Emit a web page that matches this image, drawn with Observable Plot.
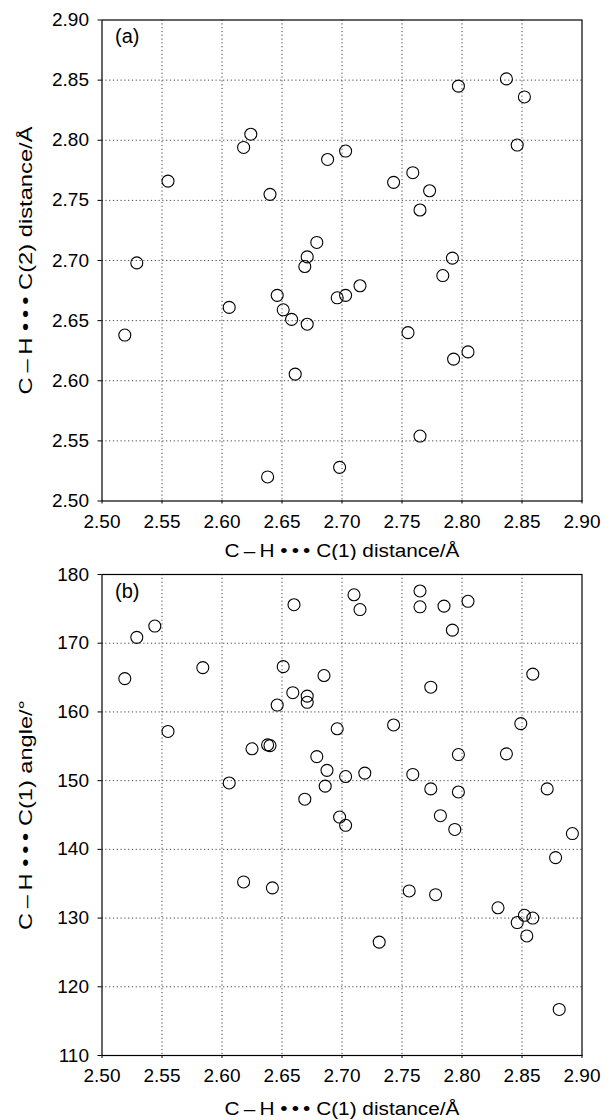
<!DOCTYPE html>
<html>
<head>
<meta charset="utf-8">
<script src="https://cdn.jsdelivr.net/npm/d3@7"></script>
<script src="https://cdn.jsdelivr.net/npm/@observablehq/plot@0.6"></script>
<style>
  html, body { margin: 0; padding: 0; background: #fff; }
  #chart { width: 610px; }
  #chart svg { display: block; }
</style>
</head>
<body>
<div id="chart"></div>
<script>
// Panel (a): C–H···C(1) distance vs C–H···C(2) distance (Å)
const aDist1 = [2.519, 2.529, 2.555, 2.606, 2.618, 2.624, 2.638, 2.640, 2.646, 2.651, 2.658, 2.661,
                2.669, 2.671, 2.671, 2.679, 2.688, 2.696, 2.698, 2.703, 2.703, 2.715, 2.743, 2.755,
                2.759, 2.765, 2.765, 2.773, 2.784, 2.792, 2.793, 2.797, 2.805, 2.837, 2.846, 2.852];
const aDist2 = [2.638, 2.698, 2.766, 2.661, 2.794, 2.805, 2.520, 2.755, 2.671, 2.659, 2.651, 2.6055,
                2.695, 2.703, 2.647, 2.715, 2.784, 2.669, 2.528, 2.671, 2.791, 2.679, 2.765, 2.640,
                2.773, 2.742, 2.554, 2.758, 2.6875, 2.702, 2.618, 2.845, 2.624, 2.851, 2.796, 2.836];

// Panel (b): C–H···C(1) distance (Å) vs C–H···C(1) angle (°)
const bDist = [2.519, 2.529, 2.544, 2.555, 2.584, 2.606, 2.625, 2.638, 2.640, 2.646, 2.651, 2.659,
               2.660, 2.671, 2.671, 2.669, 2.679, 2.685, 2.6875, 2.686, 2.696, 2.698, 2.703, 2.703,
               2.710, 2.715, 2.719, 2.743, 2.759, 2.765, 2.765, 2.774, 2.774, 2.785, 2.792, 2.805,
               2.782, 2.794, 2.797, 2.797, 2.837, 2.849, 2.859, 2.871, 2.892, 2.878, 2.618, 2.642,
               2.756, 2.778, 2.731, 2.830, 2.852, 2.859, 2.846, 2.854, 2.881];
const bAngle = [164.85, 170.85, 172.5, 157.16, 166.45, 149.66, 154.64, 155.2, 155.1, 161.0, 166.6, 162.8,
                175.6, 162.3, 161.4, 147.3, 153.5, 165.3, 151.5, 149.2, 157.55, 144.7, 143.5, 150.6,
                177.05, 174.9, 151.1, 158.1, 150.9, 177.6, 175.3, 163.6, 148.8, 175.4, 171.9, 176.1,
                144.9, 142.9, 153.8, 148.35, 153.9, 158.3, 165.5, 148.8, 142.3, 138.8, 135.26, 134.4,
                133.95, 133.4, 126.5, 131.5, 130.4, 130.0, 129.35, 127.4, 116.7];

// Axis ticks and labels
const distTicks = [2.50, 2.55, 2.60, 2.65, 2.70, 2.75, 2.80, 2.85, 2.90];
const angleTicks = [110, 120, 130, 140, 150, 160, 170, 180];
const xLabel = "C\u2009\u2013\u2009H \u2022\u2009\u2022\u2009\u2022 C(1) distance/\u00C5";
const yLabelA = "C\u2009\u2013\u2009H \u2022\u2009\u2022\u2009\u2022 C(2) distance/\u00C5";
const yLabelB = "C\u2009\u2013\u2009H \u2022\u2009\u2022\u2009\u2022 C(1) angle/\u00B0";
const panelLabels = ["(a)", "(b)"];

const FONT = "'Liberation Sans', Arial, Helvetica, sans-serif";
const TICK_FS = 19;
const LABEL_FS = 18;

function panel({xs, ys, yDomain, yTicks, yFmt, yLabel, tag, marginTop, marginBottom, xLabelDy, xLabelLen, yLabelLen}) {
  const data = xs.map((x, i) => ({x, y: ys[i]}));
  const svg = Plot.plot({
    width: 610,
    height: 560,
    marginLeft: 101.5,
    marginRight: 28.5,
    marginTop,
    marginBottom,
    style: {fontFamily: FONT, fontSize: TICK_FS + "px", color: "#000", background: "#fff"},
    x: {domain: [2.5, 2.9]},
    y: {domain: yDomain},
    marks: [
      Plot.gridX(distTicks.slice(1, -1), {stroke: "#444", strokeOpacity: 1, strokeDasharray: "1.2,2.6", strokeWidth: 1}),
      Plot.gridY(yTicks.slice(1, -1), {stroke: "#444", strokeOpacity: 1, strokeDasharray: "1.2,2.6", strokeWidth: 1}),
      Plot.frame({stroke: "#000", strokeWidth: 1.2}),
      Plot.axisX(distTicks, {tickFormat: d3.format(".2f"), tickSize: 3, tickPadding: 10, fontSize: TICK_FS, label: null}),
      Plot.axisY(yTicks, {tickFormat: yFmt, tickSize: 4, tickPadding: 9, fontSize: TICK_FS, label: null}),
      Plot.text([xLabel], {frameAnchor: "bottom", dy: xLabelDy, lineAnchor: "middle", textAnchor: "middle", fontSize: LABEL_FS, className: "xlab"}),
      Plot.text([yLabel], {frameAnchor: "left", dx: -76, rotate: -90, lineAnchor: "middle", textAnchor: "middle", fontSize: LABEL_FS, className: "ylab"}),
      Plot.text([tag], {frameAnchor: "top-left", dx: 13, dy: 9, lineAnchor: "top", textAnchor: "start", fontSize: 20}),
      Plot.dot(data, {x: "x", y: "y", r: 6, stroke: "#000", strokeWidth: 1.1, fill: "none"})
    ]
  });
  // widen label lettering to match the reference's broad typeface
  svg.querySelectorAll(".xlab text").forEach(t => {
    t.setAttribute("textLength", xLabelLen);
    t.setAttribute("lengthAdjust", "spacingAndGlyphs");
  });
  svg.querySelectorAll(".ylab text").forEach(t => {
    t.setAttribute("textLength", yLabelLen);
    t.setAttribute("lengthAdjust", "spacingAndGlyphs");
  });
  return svg;
}

const chart = document.getElementById("chart");
chart.append(panel({
  xs: aDist1, ys: aDist2, yDomain: [2.5, 2.9], yTicks: distTicks, yFmt: d3.format(".2f"),
  yLabel: yLabelA, tag: panelLabels[0], marginTop: 19.5, marginBottom: 59.5,
  xLabelDy: 50, xLabelLen: 235, yLabelLen: 268
}));
chart.append(panel({
  xs: bDist, ys: bAngle, yDomain: [110, 180], yTicks: angleTicks, yFmt: d3.format("d"),
  yLabel: yLabelB, tag: panelLabels[1], marginTop: 14, marginBottom: 65,
  xLabelDy: 54, xLabelLen: 235, yLabelLen: 230
}));
</script>
</body>
</html>
